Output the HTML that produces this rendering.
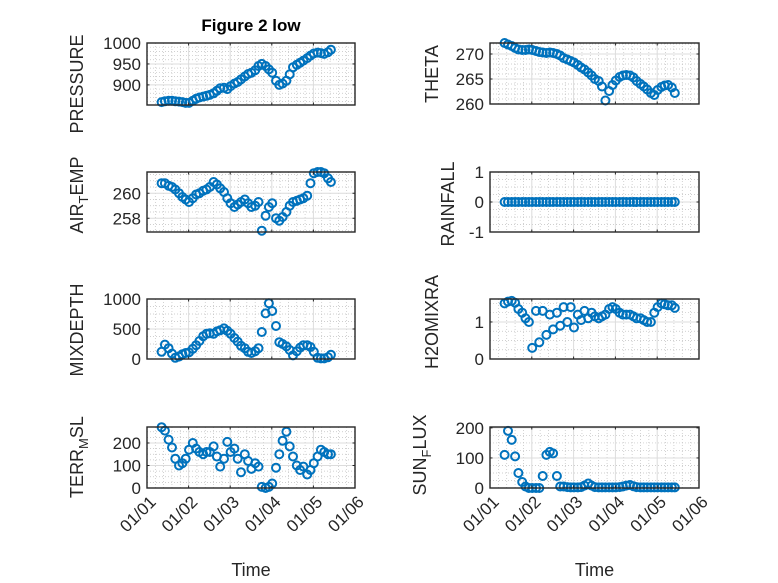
<!DOCTYPE html>
<html><head><meta charset="utf-8"><style>
html,body{margin:0;padding:0;background:#fff;}
svg{display:block;font-family:"Liberation Sans","DejaVu Sans",sans-serif;}
</style></head><body>
<svg id="fig" width="778" height="583" viewBox="0 0 778 583" xmlns="http://www.w3.org/2000/svg">
<rect width="778" height="583" fill="#fff"/>
<text x="251" y="31" font-size="17" font-weight="bold" text-anchor="middle" fill="#000">Figure 2 low</text>
</svg>
<script>
const times = [0.35,0.43,0.52,0.60,0.68,0.77,0.85,0.93,1.01,1.10,1.18,1.26,1.35,1.43,1.51,1.60,1.68,1.76,1.85,1.93,2.01,2.10,2.18,2.26,2.35,2.43,2.51,2.60,2.68,2.76,2.85,2.93,3.01,3.10,3.18,3.26,3.35,3.43,3.51,3.60,3.68,3.76,3.85,3.93,4.01,4.10,4.18,4.26,4.35,4.42];
const xTickLabels = ["01/01","01/02","01/03","01/04","01/05","01/06"];
const pressure = [859,861,862,862,861,860,859,857,857,862,867,870,872,874,876,880,886,892,893,890,897,903,907,913,920,926,929,935,945,950,945,937,929,910,900,903,910,925,942,948,953,958,964,970,975,977,976,974,978,984];
const theta = [272.2,271.9,271.6,271.2,270.9,270.8,270.8,270.9,270.8,270.6,270.4,270.3,270.2,270.3,270.2,270.0,269.7,269.2,268.9,268.6,268.3,267.8,267.3,266.9,266.3,265.7,265.0,264.6,263.5,260.7,262.6,263.8,264.7,265.4,265.7,265.8,265.7,265.3,264.6,264.0,263.5,262.9,262.2,261.8,262.8,263.4,263.7,263.8,263.3,262.2];
const airTemp = [260.8,260.8,260.6,260.5,260.3,260.0,259.7,259.5,259.3,259.6,259.9,260.0,260.2,260.3,260.5,260.9,260.7,260.4,260.1,259.6,259.2,258.9,259.1,259.3,259.5,259.2,258.9,259.0,259.3,257.0,258.2,258.9,259.2,258.0,257.8,258.1,258.5,259.0,259.3,259.4,259.5,259.6,259.8,260.8,261.6,261.7,261.7,261.6,261.2,260.9];
const rainfall = [0,0,0,0,0,0,0,0,0,0,0,0,0,0,0,0,0,0,0,0,0,0,0,0,0,0,0,0,0,0,0,0,0,0,0,0,0,0,0,0,0,0,0,0,0,0,0,0,0,0];
const mixDepth = [120,240,180,90,20,40,80,100,110,170,230,300,380,420,430,420,460,480,510,470,420,350,290,220,180,120,100,130,180,450,760,930,800,550,280,250,210,150,60,130,190,230,230,200,120,20,10,10,30,70];
const h2oMix = [1.50,1.55,1.57,1.52,1.35,1.25,1.10,1.00,0.30,1.30,0.45,1.30,0.65,1.20,0.80,1.25,0.90,1.40,1.00,1.40,0.85,1.20,1.05,1.30,1.10,1.25,1.15,1.10,1.15,1.20,1.35,1.40,1.35,1.25,1.20,1.20,1.20,1.15,1.10,1.10,1.05,1.00,1.00,1.25,1.40,1.50,1.48,1.45,1.45,1.38];
const terrMsl = [270,255,215,180,130,100,110,130,170,200,175,160,150,160,160,185,140,95,130,205,160,175,130,70,150,120,85,110,95,5,0,5,20,90,150,210,250,185,140,100,80,95,60,80,110,140,170,160,150,150];
const sunFlux = [110,190,160,105,50,20,5,0,0,0,0,40,110,120,115,40,5,5,3,2,2,2,3,8,15,8,3,2,2,2,2,2,2,3,5,8,10,6,3,2,2,2,2,2,2,2,2,2,2,2];
const pressureTicks = [900,950,1000];
const thetaTicks = [260,265,270];
const airTicks = [258,260];
const rainTicks = [-1,0,1];
const mixTicks = [0,500,1000];
const h2oTicks = [0,1];
const terrTicks = [0,100,200];
const sunTicks = [0,100,200];

const NS = "http://www.w3.org/2000/svg";
const svg = document.getElementById('fig');
function mk(tag, attrs, parent){ const e=document.createElementNS(NS,tag); for(const k in attrs) e.setAttribute(k,attrs[k]); (parent||svg).appendChild(e); return e; }

const panels = [
 {key:'pressure', vals:pressure, ticks:pressureTicks, ymin:852, ymax:1000, minor:10, x0:147,x1:355,y0:43,y1:105, label:['PRESSURE'], lx:83, cy:84},
 {key:'theta', vals:theta, ticks:thetaTicks, ymin:260, ymax:272.2, minor:1, x0:490,x1:699,y0:43,y1:104, label:['THETA'], lx:438, cy:74},
 {key:'air-temp', vals:airTemp, ticks:airTicks, ymin:256.9, ymax:261.7, minor:0.5, x0:147,x1:355,y0:172,y1:232, label:['AIR','T','EMP'], lx:83, cy:195},
 {key:'rainfall', vals:rainfall, ticks:rainTicks, ymin:-1, ymax:1, minor:0.25, x0:490,x1:699,y0:172,y1:232, label:['RAINFALL'], lx:454, cy:204},
 {key:'mixdepth', vals:mixDepth, ticks:mixTicks, ymin:0, ymax:1000, minor:125, x0:147,x1:355,y0:299,y1:359, label:['MIXDEPTH'], lx:83, cy:330},
 {key:'h2omixra', vals:h2oMix, ticks:h2oTicks, ymin:0, ymax:1.62, minor:0.25, x0:490,x1:699,y0:299,y1:359, label:['H2OMIXRA'], lx:438, cy:322},
 {key:'terr-msl', vals:terrMsl, ticks:terrTicks, ymin:0, ymax:271, minor:25, x0:147,x1:355,y0:427,y1:488, label:['TERR','M','SL'], lx:83, cy:457},
 {key:'sun-flux', vals:sunFlux, ticks:sunTicks, ymin:0, ymax:203, minor:25, x0:490,x1:699,y0:427,y1:488, label:['SUN','F','LUX'], lx:426, cy:455}
];

panels.forEach((p, idx) => {
  const g = mk('g',{});
  
  
  const xs = d => p.x0 + (d/5)*(p.x1-p.x0);
  const ys = v => p.y1 - (v-p.ymin)/(p.ymax-p.ymin)*(p.y1-p.y0);
  for(let d=0; d<=5.0001; d+=0.2){
    if(Math.abs(d-Math.round(d))<1e-6) continue;
    mk('line',{x1:xs(d),x2:xs(d),y1:p.y0,y2:p.y1,stroke:'#c0c0c0','stroke-width':0.7,'stroke-dasharray':'1,2'},g);
  }
  const start = Math.ceil(p.ymin/p.minor)*p.minor;
  for(let v=start; v<=p.ymax+1e-9; v+=p.minor){
    if(p.ticks.some(t=>Math.abs(t-v)<1e-9)) continue;
    mk('line',{x1:p.x0,x2:p.x1,y1:ys(v),y2:ys(v),stroke:'#c0c0c0','stroke-width':0.7,'stroke-dasharray':'1,2'},g);
  }
  for(let d=1; d<5; d++) mk('line',{x1:xs(d),x2:xs(d),y1:p.y0,y2:p.y1,stroke:'#dcdcdc','stroke-width':1},g);
  p.ticks.forEach(t=>{ if(t>p.ymin && t<p.ymax) mk('line',{x1:p.x0,x2:p.x1,y1:ys(t),y2:ys(t),stroke:'#dcdcdc','stroke-width':1},g); });
  p.vals.forEach((v,i)=>{
    const c = mk('circle',{cx:xs(times[i]).toFixed(1),cy:ys(v).toFixed(1),r:4,fill:'none',stroke:'#0072BD','stroke-width':2},g);
    
    
  });
  mk('rect',{x:p.x0,y:p.y0,width:p.x1-p.x0,height:p.y1-p.y0,fill:'none',stroke:'#262626','stroke-width':1.4},g);
  for(let d=0; d<=5; d++){
    mk('line',{x1:xs(d),x2:xs(d),y1:p.y1,y2:p.y1-2.5,stroke:'#262626','stroke-width':1},g);
    mk('line',{x1:xs(d),x2:xs(d),y1:p.y0,y2:p.y0+2.5,stroke:'#262626','stroke-width':1},g);
  }
  p.ticks.forEach(t=>{
    const y = ys(t);
    mk('line',{x1:p.x0,x2:p.x0+2.5,y1:y,y2:y,stroke:'#262626','stroke-width':1},g);
    mk('line',{x1:p.x1,x2:p.x1-2.5,y1:y,y2:y,stroke:'#262626','stroke-width':1},g);
    const tx = mk('text',{x:p.x0-6,y:y+6,'font-size':17,'text-anchor':'end',fill:'#262626'},g);
    tx.textContent = String(t);
    
    
  });
  const lab = mk('text',{x:0,y:0,'font-size':18,'text-anchor':'middle',fill:'#262626',transform:`translate(${p.lx},${p.cy}) rotate(-90)`},g);
  
  
  if(p.label.length===1){ lab.textContent = p.label[0]; }
  else {
    const a = mk('tspan',{},lab); a.textContent=p.label[0];
    const b = mk('tspan',{dy:5,'font-size':13},lab); b.textContent=p.label[1];
    const c = mk('tspan',{dy:-5},lab); c.textContent=p.label[2];
  }
  if(idx>=6){
    xTickLabels.forEach((s,d)=>{
      const tx = mk('text',{x:0,y:0,'font-size':17,'text-anchor':'end',fill:'#262626',transform:`translate(${xs(d)+10},${p.y1+15}) rotate(-45)`},g);
      tx.textContent = s;
      
      
    });
    const t = mk('text',{x:(p.x0+p.x1)/2,y:576,'font-size':18,'text-anchor':'middle',fill:'#262626'},g);
    t.textContent = 'Time';
    
    
  }
});
</script>
</body></html>
